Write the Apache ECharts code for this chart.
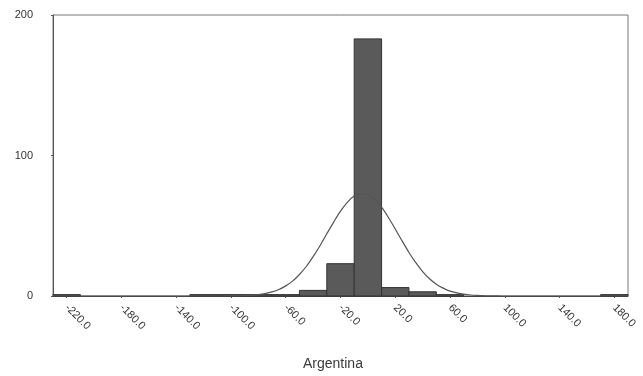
<!DOCTYPE html>
<html>
<head>
<meta charset="utf-8">
<style>
  html, body { margin: 0; padding: 0; background: #fff; }
  #chart { width: 643px; height: 376px; }
</style>
<script src="https://cdn.jsdelivr.net/npm/echarts@6/dist/echarts.min.js"></script>
</head>
<body>
<div id="chart"></div>
<script>
// Histogram bins (centre of each 20-wide bin) and their frequencies
const binCenters = [-220, -200, -180, -160, -140, -120, -100, -80, -60, -40, -20, 0, 20, 40, 60, 80, 100, 120, 140, 160, 180];
const binCounts  = [1, 0, 0, 0, 0, 1, 1, 1, 1, 4, 23, 183, 6, 3, 1, 0, 0, 0, 0, 0, 1];
const binWidth = 20;

// Fitted normal curve, sampled along the axis
const curveX = [-230, -200, -170, -140, -120, -110, -105, -100, -95, -90, -85, -80, -75, -70, -65, -60, -55, -50, -45, -40, -35, -30, -25, -20, -15, -10, -5, 0, 5, 10, 15, 20, 25, 30, 35, 40, 45, 50, 55, 60, 65, 70, 75, 80, 85, 90, 95, 100, 110, 130, 160, 190];
const curveY = [0, 0, 0, 0, 0, 0, 0.02, 0.08, 0.16, 0.3, 0.57, 1.0, 1.75, 2.9, 4.6, 7.2, 10.6, 15.3, 21.0, 28.0, 35.8, 44.3, 52.6, 60.4, 66.7, 71.1, 72.9, 72.1, 68.7, 63.2, 55.9, 47.7, 39.2, 31.0, 23.7, 17.4, 12.3, 8.4, 5.6, 3.5, 2.2, 1.3, 0.72, 0.4, 0.2, 0.1, 0.03, 0, 0, 0, 0, 0];

// Axis tick labels
const xTicks = [-220, -180, -140, -100, -60, -20, 20, 60, 100, 140, 180];
const yTicks = [0, 100, 200];
const axisTitle = 'Argentina';

const chart = echarts.init(document.getElementById('chart'), null, { renderer: 'canvas' });

const textFont = '"Liberation Sans", Arial, sans-serif';

chart.setOption({
  animation: false,
  backgroundColor: '#ffffff',
  title: {
    text: axisTitle,
    left: 298,
    top: 352,
    textStyle: { fontFamily: textFont, fontSize: 14, fontWeight: 'normal', color: '#3a3a3a' }
  },
  grid: {
    left: 53, right: 15, top: 15, bottom: 80,
    show: true,
    borderColor: '#777777',
    borderWidth: 1,
    backgroundColor: 'transparent'
  },
  xAxis: {
    type: 'value',
    min: -230,
    max: 190,
    splitLine: { show: false },
    axisLine: { show: true, onZero: false, lineStyle: { color: '#444444', width: 1 } },
    axisTick: { show: true, length: 2, customValues: xTicks, lineStyle: { color: '#555555' } },
    axisLabel: {
      customValues: xTicks,
      rotate: -45,
      margin: 10,
      fontFamily: textFont,
      fontSize: 11,
      color: '#333333',
      formatter: v => Number(v).toFixed(1)
    }
  },
  yAxis: {
    type: 'value',
    min: 0,
    max: 200,
    interval: 100,
    splitLine: { show: false },
    axisLine: { show: true, onZero: false, lineStyle: { color: '#555555', width: 1 } },
    axisTick: { show: true, length: 2, customValues: yTicks, lineStyle: { color: '#555555' } },
    axisLabel: {
      customValues: yTicks,
      margin: 20,
      fontFamily: textFont,
      fontSize: 11,
      color: '#333333'
    }
  },
  series: [
    {
      type: 'custom',
      name: 'Frequency',
      data: binCenters.map((c, i) => [c, binCounts[i]]),
      encode: { x: 0, y: 1 },
      renderItem: function (params, api) {
        const c = api.value(0);
        const n = api.value(1);
        if (!n) return null;
        const topLeft = api.coord([c - binWidth / 2, n]);
        const bottomRight = api.coord([c + binWidth / 2, 0]);
        return {
          type: 'rect',
          shape: {
            x: topLeft[0],
            y: topLeft[1],
            width: bottomRight[0] - topLeft[0],
            height: bottomRight[1] - topLeft[1]
          },
          style: { fill: '#5a5a5a', stroke: '#333333', lineWidth: 1 }
        };
      },
      z: 2
    },
    {
      type: 'line',
      name: 'Normal',
      data: curveX.map((x, i) => [x, curveY[i]]),
      smooth: 0.3,
      showSymbol: false,
      lineStyle: { color: '#555555', width: 1.2 },
      z: 3
    }
  ]
});
</script>
</body>
</html>
